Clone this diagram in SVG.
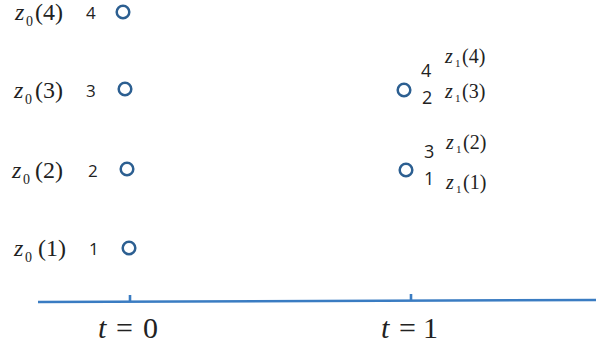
<svg xmlns="http://www.w3.org/2000/svg" width="596" height="353" viewBox="0 0 596 353">
<style>
.node{fill:none;stroke:#2c5f91;stroke-width:2.5}
.z{font-family:"Liberation Serif",serif;fill:#222}
.zi{font-style:italic}
.n{font-family:"Open Sans","Liberation Sans",sans-serif;fill:#222}
.axis{stroke:#3a7cc2;stroke-width:2.6;fill:none}
</style>
<rect width="596" height="353" fill="#fff"/>
<g id="node-z0-4">
<circle class="node" cx="123" cy="12" r="6.3"/>
<text class="n" x="86" y="19" font-size="17">4</text>
<text class="z" y="20" font-size="24"><tspan class="zi" x="15">z</tspan><tspan x="26" y="26" font-size="14">0</tspan><tspan x="35" y="20">(4)</tspan></text>
</g>
<g id="node-z0-3">
<circle class="node" cx="125" cy="89" r="6.3"/>
<text class="n" x="86" y="97" font-size="17">3</text>
<text class="z" y="98" font-size="24"><tspan class="zi" x="14">z</tspan><tspan x="25" y="104" font-size="14">0</tspan><tspan x="35" y="98">(3)</tspan></text>
</g>
<g id="node-z0-2">
<circle class="node" cx="127" cy="169" r="6.3"/>
<text class="n" x="88" y="177" font-size="17">2</text>
<text class="z" y="178" font-size="24"><tspan class="zi" x="12">z</tspan><tspan x="23" y="184" font-size="14">0</tspan><tspan x="35" y="178">(2)</tspan></text>
</g>
<g id="node-z0-1">
<circle class="node" cx="129" cy="248" r="6.3"/>
<text class="n" x="89" y="255" font-size="17">1</text>
<text class="z" y="256" font-size="24"><tspan class="zi" x="14">z</tspan><tspan x="25" y="262" font-size="14">0</tspan><tspan x="38" y="256">(1)</tspan></text>
</g>
<g id="node-z1-34">
<circle class="node" cx="404" cy="90" r="6.3"/>
<text class="n" x="421" y="77" font-size="18">4</text>
<text class="n" x="422" y="104" font-size="18">2</text>
<text class="z" y="63" font-size="20"><tspan class="zi" x="445">z</tspan><tspan x="455" y="67" font-size="11">1</tspan><tspan x="462" y="63">(4)</tspan></text>
<text class="z" y="98" font-size="20"><tspan class="zi" x="445">z</tspan><tspan x="455" y="102" font-size="11">1</tspan><tspan x="462" y="98">(3)</tspan></text>
</g>
<g id="node-z1-12">
<circle class="node" cx="406" cy="170" r="6.3"/>
<text class="n" x="424" y="158" font-size="18">3</text>
<text class="n" x="424" y="185" font-size="18">1</text>
<text class="z" y="149" font-size="20"><tspan class="zi" x="446">z</tspan><tspan x="456" y="153" font-size="11">1</tspan><tspan x="463" y="149">(2)</tspan></text>
<text class="z" y="189" font-size="20"><tspan class="zi" x="446">z</tspan><tspan x="456" y="193" font-size="11">1</tspan><tspan x="463" y="189">(1)</tspan></text>
</g>
<g id="connectors">
<path class="axis" d="M38 302 L596 300"/>
<path class="axis" d="M130 295 V301 M411 294 V300" stroke-width="2"/>
</g>
<g id="labels">
<text class="z" y="338" font-size="30"><tspan class="zi" x="98">t</tspan><tspan x="116">=</tspan><tspan x="143">0</tspan></text>
<text class="z" y="338" font-size="30"><tspan class="zi" x="381">t</tspan><tspan x="399">=</tspan><tspan x="423">1</tspan></text>
</g>
</svg>
